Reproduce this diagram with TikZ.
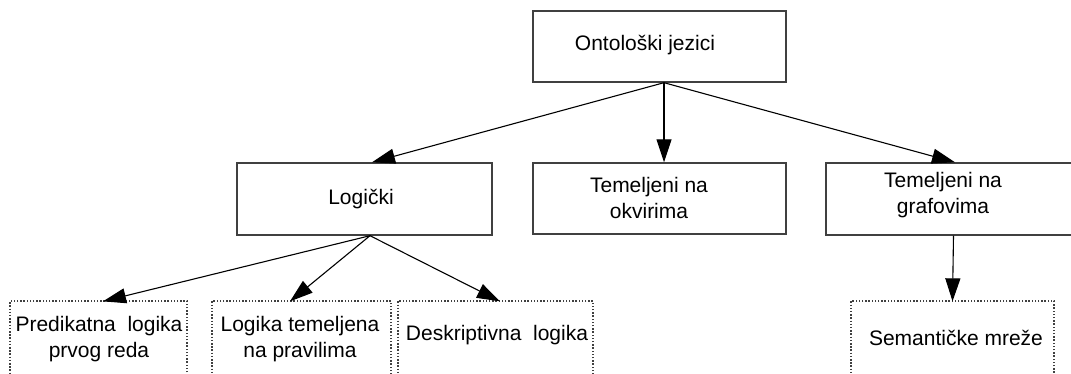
\documentclass[tikz,border=0pt]{standalone}
\usepackage{fontspec}
\setmainfont{Liberation Sans}
\usetikzlibrary{arrows.meta}
\begin{document}
\begin{tikzpicture}[x=1pt,y=-1pt,
  box/.style={draw=black!75,line width=1.4pt,inner sep=0pt,fill=white},
  dotbox/.style={draw=black!75,line width=1.3pt,dash pattern=on 1.5pt off 1.7pt,inner sep=0pt},
  lbl/.style={align=center,inner sep=0pt,font=\fontsize{21}{26}\selectfont,text=black},
  arr/.style={draw=black,line width=1.1pt,-{Triangle[length=23pt,width=15pt]}}
]
\useasboundingbox (0,0) rectangle (1071,374);
% boxes
\node[box,minimum width=253pt,minimum height=71pt] (top) at (659.5,46.5) {};
\node[box,minimum width=255pt,minimum height=72pt] (logic) at (364.5,199) {};
\node[box,minimum width=253pt,minimum height=71pt] (okv) at (659.5,198.5) {};
\node[box,minimum width=255pt,minimum height=72pt] (graf) at (953.5,199) {};
\node[dotbox,minimum width=177pt,minimum height=80pt] (pred) at (98.5,341) {};
\node[dotbox,minimum width=179pt,minimum height=80pt] (ltem) at (301.5,341) {};
\node[dotbox,minimum width=195pt,minimum height=80pt] (desk) at (495.5,341) {};
\node[dotbox,minimum width=203pt,minimum height=80pt] (sem) at (952.5,341) {};
% labels
\node[lbl] (ttop) at (645,45) {Ontološki jezici};
\node[lbl] (tlogic) at (361,199) {Logički};
\node[lbl] (tokv) at (649,198) {Temeljeni na\\okvirima};
\node[lbl] (tgraf) at (943,195) {Temeljeni na\\grafovima};
\node[lbl] (tpred) at (99,339) {Predikatna\ \ logika\\prvog reda};
\node[lbl] (tltem) at (300,339) {Logika temeljena\\na pravilima};
\node[lbl] (tdesk) at (497,335) {Deskriptivna\ \ logika};
\node[lbl] (tsem) at (956,338) {Semantičke mreže};
% connectors
\coordinate (ts) at ([xshift=4.5pt]top.south);
\coordinate (ls) at ([xshift=5.5pt]logic.south);
\draw[arr] (ts) -- ([xshift=7.5pt]logic.north);
\draw[arr] (ts) -- (ts |- okv.north);
\draw[arr] (ts) -- ([xshift=1.5pt]graf.north);
\draw[arr] (ls) -- ([xshift=4.5pt,yshift=-1pt]pred.north);
\draw[arr] (ls) -- ([xshift=-11.5pt,yshift=-1pt]ltem.north);
\draw[arr] (ls) -- ([xshift=4.5pt,yshift=-1pt]desk.north);
\draw[arr] (graf.south) -- ([yshift=-1pt]sem.north);
\end{tikzpicture}
\end{document}
